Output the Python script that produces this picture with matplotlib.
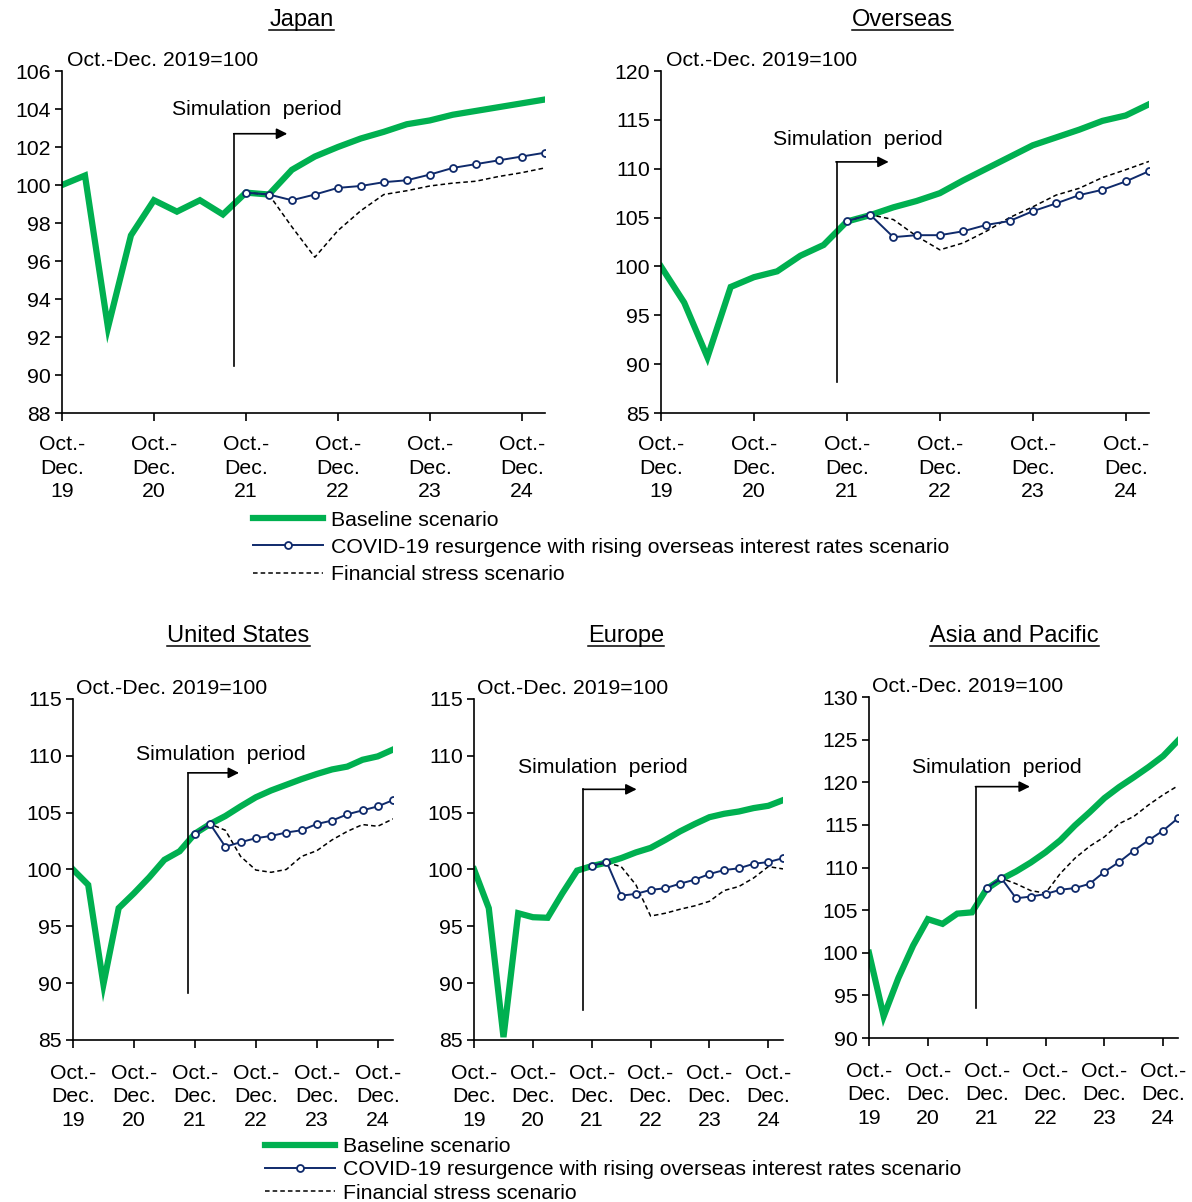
# Real GDP simulation scenarios, Japan and overseas economies
import matplotlib.pyplot as plt
from matplotlib.lines import Line2D

plt.rcParams['font.family'] = ['Liberation Sans', 'DejaVu Sans']
plt.rcParams['font.size'] = 15.3

# Quarters from Oct.-Dec. 2019 (0) to Jan.-Mar. 2025 (21):
quarters = list(range(22))
sim_quarters = quarters[8:]
tick_pos = [0, 4, 8, 12, 16, 20]
tick_labels = ["Oct.-\nDec.\n19", "Oct.-\nDec.\n20", "Oct.-\nDec.\n21",
               "Oct.-\nDec.\n22", "Oct.-\nDec.\n23", "Oct.-\nDec.\n24"]

panel_titles = ["Japan", "Overseas", "United States", "Europe", "Asia and Pacific"]
series_names = ["Baseline scenario",
                "COVID-19 resurgence with rising overseas interest rates scenario",
                "Financial stress scenario"]

# Japan:
japan_base = [100.0, 100.5, 92.5, 97.35, 99.2, 98.6, 99.2, 98.45, 99.6, 99.5, 100.8,
              101.5, 102.0, 102.45, 102.8, 103.2, 103.4, 103.7, 103.9, 104.1, 104.3, 104.5]
japan_covid = [99.6, 99.5, 99.2, 99.5, 99.85, 99.95, 100.15, 100.25, 100.55, 100.9,
               101.1, 101.3, 101.5, 101.7]
japan_stress = [99.6, 99.5, 97.8, 96.2, 97.6, 98.65, 99.5, 99.7, 99.95, 100.1,
                100.2, 100.45, 100.65, 100.9]

# Overseas:
overseas_base = [100.0, 96.3, 90.7, 97.9, 98.9, 99.5, 101.1, 102.2, 104.6, 105.25, 106.05,
                 106.7, 107.5, 108.8, 110.0, 111.2, 112.4, 113.2, 114.0, 114.9, 115.45, 116.6]
overseas_covid = [104.65, 105.3, 103.0, 103.2, 103.2, 103.6, 104.25, 104.65, 105.65,
                  106.45, 107.3, 107.85, 108.7, 109.75]
overseas_stress = [104.65, 105.3, 104.8, 103.1, 101.7, 102.4, 103.6, 105.0, 106.1,
                   107.3, 108.0, 109.1, 109.9, 110.75]

# United States:
us_base = [100.0, 98.65, 89.9, 96.6, 97.9, 99.3, 100.85, 101.6, 103.15, 104.0, 104.7,
           105.55, 106.35, 106.95, 107.45, 107.95, 108.4, 108.8, 109.05, 109.65, 109.95, 110.55]
us_covid = [103.15, 104.0, 102.0, 102.4, 102.75, 102.95, 103.25, 103.45, 104.0, 104.3,
            104.85, 105.2, 105.55, 106.1]
us_stress = [103.15, 104.0, 103.45, 101.15, 99.95, 99.75, 100.0, 101.15, 101.65, 102.6,
             103.35, 103.95, 103.8, 104.45]

# Europe:
europe_base = [100.0, 96.6, 85.25, 96.15, 95.8, 95.75, 97.9, 99.9, 100.3, 100.6, 101.0,
               101.5, 101.9, 102.6, 103.35, 104.0, 104.6, 104.9, 105.1, 105.4, 105.6, 106.1]
europe_covid = [100.3, 100.7, 97.7, 97.85, 98.2, 98.35, 98.75, 99.1, 99.6, 99.95,
                100.1, 100.5, 100.65, 101.0]
europe_stress = [100.3, 100.6, 100.25, 98.65, 95.9, 96.15, 96.5, 96.8, 97.2, 98.15,
                 98.5, 99.25, 100.25, 100.05]

# Asia and Pacific:
asia_base = [100.0, 92.55, 97.05, 100.85, 103.95, 103.4, 104.6, 104.75, 107.5, 108.65, 109.55,
             110.6, 111.8, 113.2, 114.95, 116.5, 118.15, 119.45, 120.6, 121.8, 123.1, 124.9]
asia_covid = [107.6, 108.75, 106.4, 106.6, 106.9, 107.4, 107.6, 108.1, 109.5, 110.65,
              112.0, 113.2, 114.35, 115.8]
asia_stress = [107.6, 108.75, 108.1, 107.3, 107.0, 109.3, 111.1, 112.5, 113.6, 115.15,
               116.0, 117.35, 118.55, 119.6]

# Y axis ranges (min, max, step):
y_ranges = [(88, 106, 2), (85, 120, 5), (85, 115, 5), (85, 115, 5), (90, 130, 5)]

# Layout of axes in figure fractions (left, bottom, width, height):
axes_rects = [(0.052, 0.6564, 0.405, 0.2845),
              (0.5545, 0.6564, 0.4094, 0.2845),
              (0.0612, 0.1348, 0.2685, 0.2837),
              (0.3977, 0.1348, 0.2592, 0.2837),
              (0.729, 0.1364, 0.2592, 0.2836)]
title_pos = [(0.253, 0.983), (0.757, 0.983), (0.2, 0.471), (0.525, 0.471), (0.851, 0.471)]

# Simulation period marker: x of line, bottom, top, arrow end, text x, text y
sim_marks = [(7.5, 90.5, 102.7, 9.8, 8.46, 104.0),
             (7.56, 88.2, 110.7, 9.8, 8.46, 113.0),
             (7.58, 89.1, 108.5, 10.9, 9.67, 110.1),
             (7.43, 87.65, 107.05, 11.05, 8.74, 109.0),
             (7.27, 93.5, 119.5, 10.94, 8.67, 121.8)]

green = '#00B050'
navy = '#0F2A6B'

base_all = [japan_base, overseas_base, us_base, europe_base, asia_base]
covid_all = [japan_covid, overseas_covid, us_covid, europe_covid, asia_covid]
stress_all = [japan_stress, overseas_stress, us_stress, europe_stress, asia_stress]

fig = plt.figure(figsize=(11.92, 12.02), dpi=100)

titles = []
for k in range(5):
    ax = fig.add_axes(axes_rects[k])
    ax.plot(quarters, base_all[k], color=green, lw=4.5, solid_joinstyle='miter', zorder=2)
    ax.plot(sim_quarters, stress_all[k], color='black', lw=1.1, ls=(0, (3, 2)), zorder=3)
    ax.plot(sim_quarters, covid_all[k], color=navy, lw=1.4, marker='o', ms=5,
            mfc='white', mec=navy, mew=1.3, zorder=4)

    lo, hi, step = y_ranges[k]
    ax.set_ylim(lo, hi)
    ax.set_yticks(range(lo, hi + 1, step))
    ax.set_xlim(0, 21)
    ax.set_xticks(tick_pos)
    ax.set_xticklabels(tick_labels, linespacing=1.3)
    ax.spines['top'].set_visible(False)
    ax.spines['right'].set_visible(False)
    ax.spines['left'].set_linewidth(1.2)
    ax.spines['bottom'].set_linewidth(1.2)
    ax.tick_params(axis='y', direction='out', length=5, width=1.2, pad=3)
    if k < 2:
        ax.tick_params(axis='x', direction='out', length=6, width=1.2, pad=10)
    else:
        ax.tick_params(axis='x', direction='out', length=6, width=1.2, pad=11)

    ax.text(0.01, 1.003, "Oct.-Dec. 2019=100", transform=ax.transAxes,
            ha='left', va='bottom')

    # Simulation period arrow:
    sx, sb, st, se, tx, ty = sim_marks[k]
    ax.plot([sx, sx], [sb, st], color='black', lw=1.2, clip_on=False, zorder=5)
    ax.annotate('', xy=(se, st), xytext=(sx - 0.03, st),
                arrowprops=dict(arrowstyle='-|>', color='black', lw=1.2,
                                mutation_scale=16, shrinkA=0, shrinkB=0))
    ax.text(tx, ty, "Simulation  period", ha='center', va='center')

    titles.append(fig.text(title_pos[k][0], title_pos[k][1], panel_titles[k],
                           ha='center', va='center', fontsize=17))

# Legends:
handles = [Line2D([], [], color=green, lw=4.5),
           Line2D([], [], color=navy, lw=1.4, marker='o', ms=5, mfc='white', mec=navy, mew=1.3),
           Line2D([], [], color='black', lw=1.1, ls=(0, (3, 2)))]
fig.legend(handles, series_names, loc='upper left', bbox_to_anchor=(0.212, 0.575),
           frameon=False, borderpad=0, borderaxespad=0, handlelength=3.3,
           handletextpad=0.4, labelspacing=0.38, numpoints=1)
fig.legend(handles, series_names, loc='upper left', bbox_to_anchor=(0.222, 0.054),
           frameon=False, borderpad=0, borderaxespad=0, handlelength=3.3,
           handletextpad=0.4, labelspacing=0.2, numpoints=1)

# Underline the panel titles:
fig.canvas.draw()
renderer = fig.canvas.get_renderer()
for t in titles:
    bb = t.get_window_extent(renderer).transformed(fig.transFigure.inverted())
    fig.add_artist(Line2D([bb.x0, bb.x1], [bb.y0 + 0.001, bb.y0 + 0.001],
                          color='black', lw=1.1, transform=fig.transFigure))

plt.savefig("out.png", dpi=100)
